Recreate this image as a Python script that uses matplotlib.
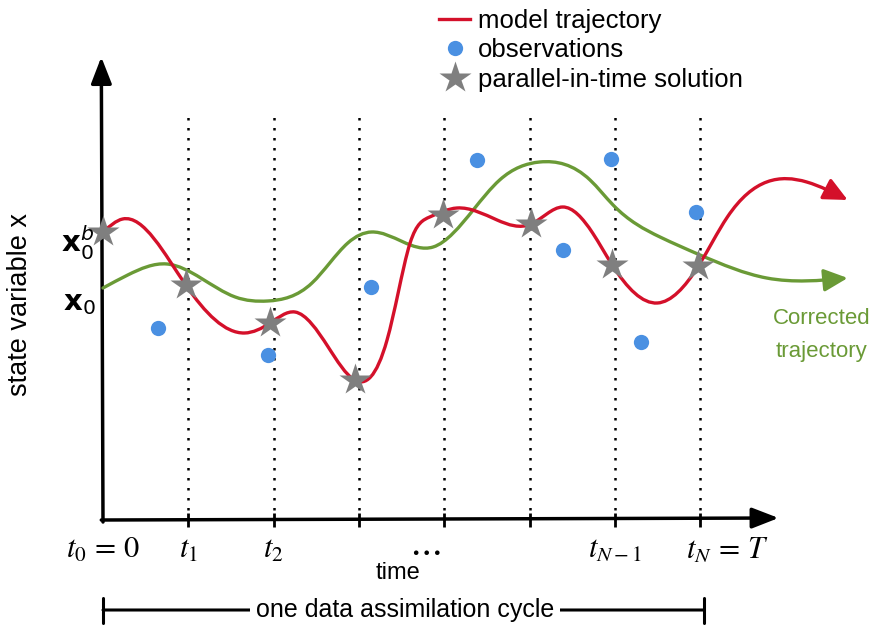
import numpy as np
import matplotlib
matplotlib.use("Agg")
import matplotlib.pyplot as plt
from matplotlib.path import Path
from matplotlib.patches import FancyArrowPatch
from matplotlib.lines import Line2D

# ---------------- data (time in units of sub-interval, state arbitrary) -------------
t_ticks = [1, 2, 3, 4, 5, 6, 7]
tick_labels = [r"$t_0\,=\,0$", "$t_1$", "$t_2$", r"$\cdots$", "$t_{N-1}$", r"$t_N\,=\,T$"]
tick_label_pos = [0, 1, 2, 3.77, 6, 7.32]

model_t = [0.00, 0.23, 0.97, 1.66, 1.96, 2.25, 2.64, 2.95, 3.33, 3.46, 3.60, 3.83,
           4.15, 4.62, 5.02, 5.39, 5.74, 5.97, 6.50, 6.98, 7.32, 8.25, 8.73]
model_x = [2.88, 3.01, 2.35, 1.87, 1.97, 2.08, 1.73, 1.40, 1.80, 2.27, 2.77, 3.03,
           3.12, 3.00, 2.96, 3.13, 2.87, 2.55, 2.17, 2.54, 3.03, 3.38, 3.20]

corr_t = [0.00, 0.29, 0.75, 1.55, 1.93, 2.45, 2.87, 3.15, 3.87, 4.34, 4.65, 5.12,
          5.71, 5.98, 6.53, 7.00, 7.78, 8.73]
corr_x = [2.32, 2.45, 2.56, 2.23, 2.19, 2.37, 2.77, 2.88, 2.73, 3.10, 3.40, 3.58,
          3.40, 3.15, 2.83, 2.65, 2.42, 2.42]

obs_t = [0.645, 1.93, 3.14, 4.38, 5.39, 5.96, 6.31, 6.95]
obs_x = [1.92, 1.65, 2.33, 3.60, 2.70, 3.61, 1.78, 3.08]

pit_t = [0.00, 0.97, 1.96, 2.95, 3.99, 5.02, 5.97, 6.98]
pit_x = [2.88, 2.35, 1.97, 1.40, 3.05, 2.96, 2.55, 2.54]

x0b_level = 2.77
x0_level = 2.17

RED = "#d4102a"
GREEN = "#6a9a36"
BLUE = "#4a90e2"
GREY = "#7f7f7f"


def smooth_path(xs, ys):
    """Bezier path through the read points (natural-spline tangents)."""
    x = np.asarray(xs, float)
    y = np.asarray(ys, float)
    n = len(x)
    h = np.diff(x)
    A = np.zeros((n, n))
    b = np.zeros(n)
    A[0, 0] = A[-1, -1] = 1.0
    for i in range(1, n - 1):
        A[i, i - 1] = h[i - 1]
        A[i, i] = 2 * (h[i - 1] + h[i])
        A[i, i + 1] = h[i]
        b[i] = 6 * ((y[i + 1] - y[i]) / h[i] - (y[i] - y[i - 1]) / h[i - 1])
    M = np.linalg.solve(A, b)
    slope = np.zeros(n)
    for i in range(n - 1):
        slope[i] = (y[i + 1] - y[i]) / h[i] - h[i] * (2 * M[i] + M[i + 1]) / 6
    slope[-1] = (y[-1] - y[-2]) / h[-1] + h[-1] * (M[-2] + 2 * M[-1]) / 6
    verts = [(x[0], y[0])]
    codes = [Path.MOVETO]
    for i in range(n - 1):
        verts += [(x[i] + h[i] / 3, y[i] + slope[i] * h[i] / 3),
                  (x[i + 1] - h[i] / 3, y[i + 1] - slope[i + 1] * h[i] / 3),
                  (x[i + 1], y[i + 1])]
        codes += [Path.CURVE4] * 3
    return Path(verts, codes)


fig = plt.figure(figsize=(8.72, 6.28), dpi=100)
ax = fig.add_axes([0, 0, 1, 1])
ax.set_xlim(-103 / 85.3, (872 - 103) / 85.3)
ax.set_ylim(-1.08, 5.20)
ax.axis("off")

sans = ["Liberation Sans", "DejaVu Sans"]
narrow = ["Liberation Sans Narrow", "Liberation Sans", "DejaVu Sans"]

# dotted lines
ax.vlines(t_ticks, 0, 4.05, colors="black", linestyles=(0, (1, 3)), linewidth=1.8, zorder=1)
# axes arrows
ax.annotate("", xy=(7.92, 0.02), xytext=(-0.02, 0.0),
            arrowprops=dict(arrowstyle="-|>,head_length=0.9,head_width=0.35",
                            mutation_scale=18, lw=2.5, color="black",
                            shrinkA=0, shrinkB=0))
ax.annotate("", xy=(-0.02, 4.63), xytext=(0.0, -0.02),
            arrowprops=dict(arrowstyle="-|>,head_length=0.9,head_width=0.35",
                            mutation_scale=18, lw=2.5, color="black",
                            shrinkA=0, shrinkB=0))
ax.vlines(t_ticks, -0.07, 0.07, colors="black", linewidth=2, zorder=3)

# curves
red_arrow = FancyArrowPatch(path=smooth_path(model_t, model_x),
                            arrowstyle="-|>,head_length=0.8,head_width=0.38",
                            mutation_scale=18, color=RED, lw=2.4, zorder=4)
ax.add_patch(red_arrow)
green_arrow = FancyArrowPatch(path=smooth_path(corr_t, corr_x),
                              arrowstyle="-|>,head_length=0.8,head_width=0.38",
                              mutation_scale=18, color=GREEN, lw=2.4, zorder=3)
ax.add_patch(green_arrow)

ax.plot(obs_t, obs_x, "o", color=BLUE, ms=11, mec="none", zorder=5)
ax.plot(pit_t, pit_x, "*", color=GREY, ms=24, mec="none", zorder=6)

# y labels
ax.text(-0.10, x0b_level, r"$\mathbf{x}_0^b$", fontsize=21, ha="right", va="center",
        math_fontfamily="dejavusans", zorder=7)
ax.text(-0.08, x0_level, r"$\mathbf{x}_0$", fontsize=21, ha="right", va="center",
        math_fontfamily="dejavusans")
ax.text(-0.97, 2.15, "state variable x", rotation=90, fontsize=19.5, ha="center",
        va="center", family=sans)

# time tick labels
for pos, lab in zip(tick_label_pos, tick_labels):
    size = 26 if "cdots" in lab else 22
    ax.text(pos, -0.30, lab, fontsize=size, ha="center", va="center",
            math_fontfamily="stix")
ax.text(3.46, -0.53, "time", fontsize=17, ha="center", va="center", family=narrow)

# assimilation cycle bar
ax.annotate("", xy=(7.05, -0.90), xytext=(0.0, -0.90),
            arrowprops=dict(arrowstyle="|-|,widthA=0.5,widthB=0.5", lw=2.2,
                            color="black", shrinkA=0, shrinkB=0, mutation_scale=18))
ax.text(3.54, -0.90, "one data assimilation cycle", fontsize=18, ha="center",
        va="center", family=narrow,
        bbox=dict(facecolor="white", edgecolor="none", pad=4))

ax.text(8.42, 1.85, "Corrected\ntrajectory", color=GREEN, fontsize=16, ha="center",
        va="center", linespacing=1.75, family=sans)

handles = [Line2D([], [], color=RED, lw=2.4),
           Line2D([], [], marker="o", color=BLUE, ls="none", ms=11, mec="none"),
           Line2D([], [], marker="*", color=GREY, ls="none", ms=24, mec="none")]
ax.legend(handles, ["model trajectory", "observations", "parallel-in-time solution"],
          loc="upper left", bbox_to_anchor=(424 / 872, 1.011), frameon=False,
          prop=dict(family=sans, size=18.5), handlelength=1.2, handletextpad=0.3,
          labelspacing=0.22, borderpad=0.1)

fig.savefig("out.png", dpi=100)
